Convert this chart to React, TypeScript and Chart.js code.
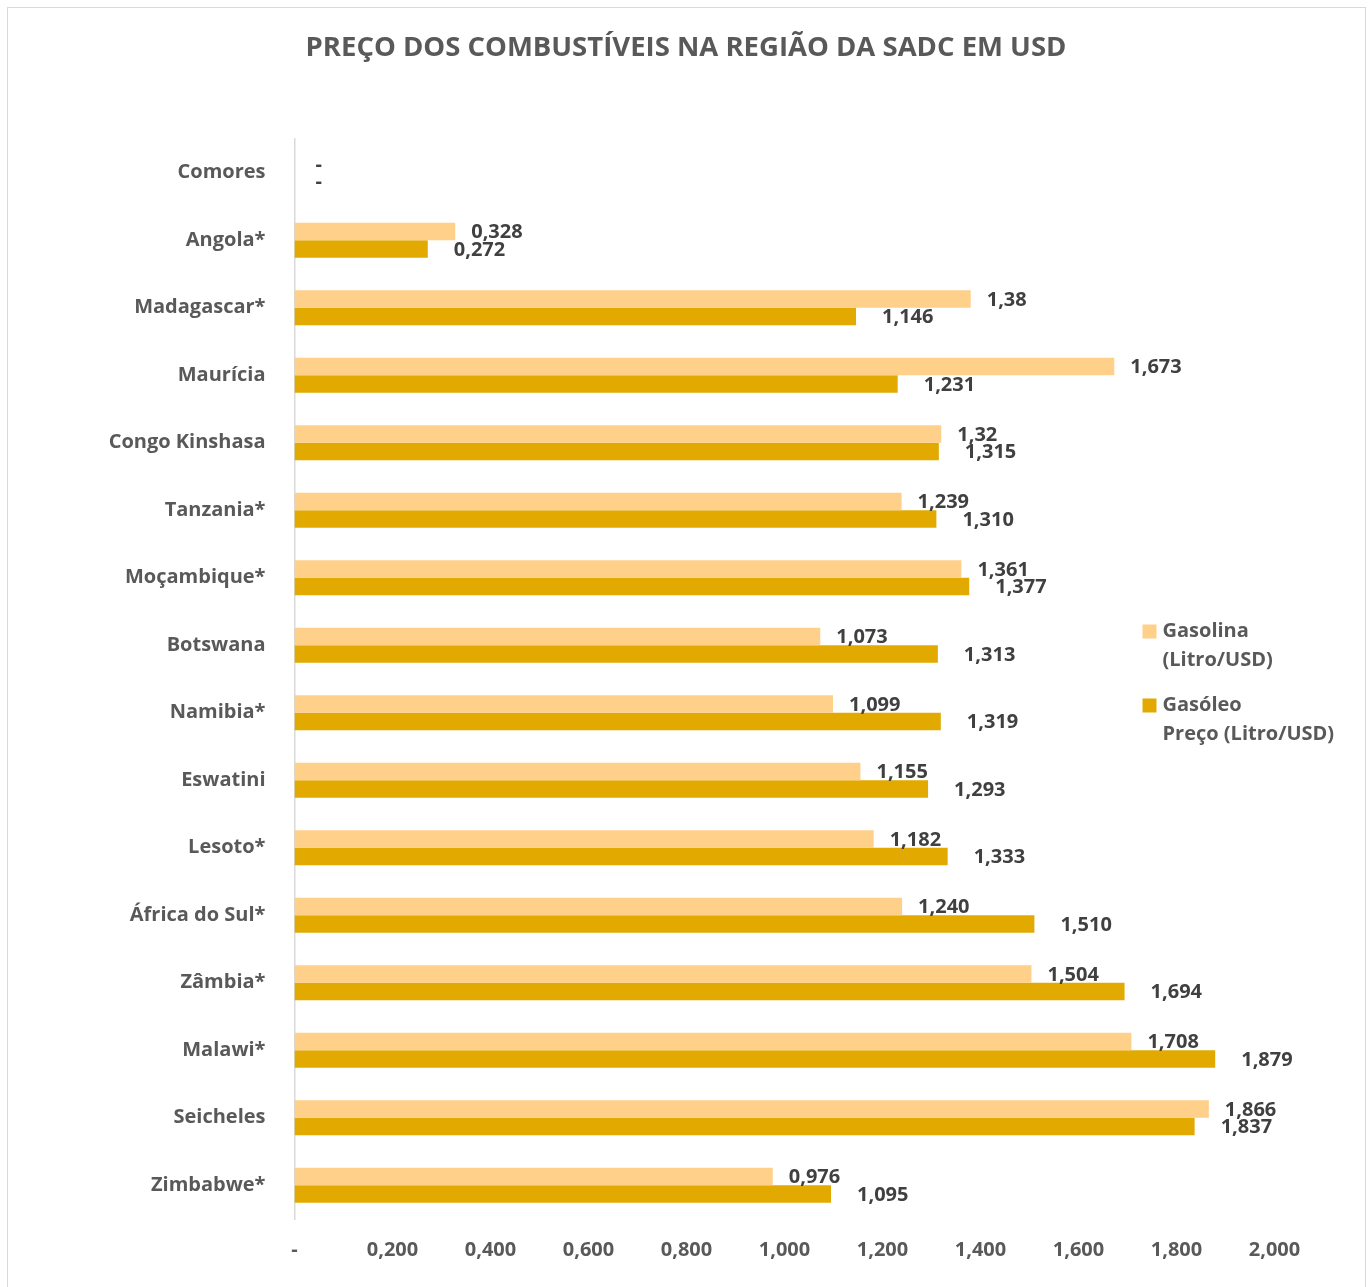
import React, { useEffect, useRef } from "react";
import { Chart, registerables } from "chart.js";

Chart.register(...registerables);

const titleText = "PREÇO DOS COMBUSTÍVEIS NA REGIÃO DA SADC EM USD";

const categories = [
  "Comores",
  "Angola*",
  "Madagascar*",
  "Maurícia",
  "Congo Kinshasa",
  "Tanzania*",
  "Moçambique*",
  "Botswana",
  "Namibia*",
  "Eswatini",
  "Lesoto*",
  "África do Sul*",
  "Zâmbia*",
  "Malawi*",
  "Seicheles",
  "Zimbabwe*",
];

// values as printed on the chart (decimal comma)
const gasolinaLabels = ["-", "0,328", "1,38", "1,673", "1,32", "1,239", "1,361", "1,073", "1,099", "1,155", "1,182", "1,240", "1,504", "1,708", "1,866", "0,976"];
const gasoleoLabels = ["-", "0,272", "1,146", "1,231", "1,315", "1,310", "1,377", "1,313", "1,319", "1,293", "1,333", "1,510", "1,694", "1,879", "1,837", "1,095"];

const seriesNames = [
  ["Gasolina", "(Litro/USD)"],
  ["Gasóleo", "Preço (Litro/USD)"],
];

const xMin = 0;
const xMax = 2;
const xStep = 0.2;

const parseVal = (s: string) => (s === "-" ? 0 : parseFloat(s.replace(",", ".")));
const gasolina = gasolinaLabels.map(parseVal);
const gasoleo = gasoleoLabels.map(parseVal);

const FONT = "'Open Sans', 'Noto Sans', sans-serif";
const colors = ["#FFD08A", "#E2AA00"];

const titlePlugin = {
  id: "customTitle",
  afterDraw(chart: any) {
    const ctx = chart.ctx;
    ctx.save();
    ctx.font = `bold 27.5px ${FONT}`;
    ctx.fillStyle = "#595959";
    ctx.textAlign = "center";
    ctx.textBaseline = "middle";
    ctx.fillText(titleText, chart.width / 2, 40);
    ctx.restore();
  },
};

const dataLabelPlugin = {
  id: "dataLabels",
  afterDatasetsDraw(chart: any) {
    const ctx = chart.ctx;
    const offsets = [16, 26];
    const texts = [gasolinaLabels, gasoleoLabels];
    ctx.save();
    ctx.font = `bold 20px ${FONT}`;
    ctx.fillStyle = "#404040";
    ctx.textAlign = "left";
    ctx.textBaseline = "middle";
    chart.data.datasets.forEach((_: any, di: number) => {
      const meta = chart.getDatasetMeta(di);
      meta.data.forEach((el: any, i: number) => {
        const t = texts[di][i];
        const off = t === "-" ? 21 : offsets[di];
        ctx.fillText(t, el.x + off, el.y + 1);
      });
    });
    ctx.restore();
  },
};

const legendPlugin = {
  id: "sideLegend",
  afterDraw(chart: any) {
    const ctx = chart.ctx;
    ctx.save();
    ctx.font = `bold 20px ${FONT}`;
    ctx.textAlign = "left";
    ctx.textBaseline = "middle";
    const x0 = 1134.5;
    let y0 = 623.5;
    chart.data.datasets.forEach((ds: any) => {
      ctx.fillStyle = ds.backgroundColor;
      ctx.fillRect(x0, y0 - 7, 14, 14);
      ctx.fillStyle = "#595959";
      const lines: string[] = ds.label;
      lines.forEach((ln, k) => {
        ctx.fillText(ln, x0 + 20, y0 + k * 29);
      });
      y0 += 74;
    });
    ctx.restore();
  },
};

export default function App() {
  const ref = useRef<HTMLCanvasElement | null>(null);

  useEffect(() => {
    if (!ref.current) return;
    const chart = new Chart(ref.current, {
      type: "bar",
      data: {
        labels: categories,
        datasets: [
          {
            label: seriesNames[0] as any,
            data: gasolina,
            backgroundColor: colors[0],
            borderWidth: 0,
            categoryPercentage: 0.52,
            barPercentage: 1.0,
          },
          {
            label: seriesNames[1] as any,
            data: gasoleo,
            backgroundColor: colors[1],
            borderWidth: 0,
            categoryPercentage: 0.52,
            barPercentage: 1.0,
          },
        ],
      },
      options: {
        indexAxis: "y",
        animation: false,
        responsive: false,
        layout: { padding: { left: 0, right: 89.5, top: 131, bottom: 24 } },
        plugins: {
          legend: { display: false },
          tooltip: { enabled: false },
          title: { display: false },
        },
        scales: {
          x: {
            type: "linear",
            min: xMin,
            max: xMax,
            grid: { display: false, drawTicks: false },
            border: { display: false },
            ticks: {
              stepSize: xStep,
              padding: 19,
              color: "#595959",
              font: { family: FONT, size: 20, weight: "bold" },
              callback: (v: any) => (Math.abs(v) < 1e-9 ? "-" : Number(v).toFixed(3).replace(".", ",")),
            },
            afterFit: (scale: any) => {
              scale.height = 43;
            },
          },
          y: {
            grid: { display: false, drawTicks: false },
            border: { display: true, color: "#D9D9D9", width: 1.5 },
            ticks: {
              padding: 29,
              color: "#595959",
              font: { family: FONT, size: 20, weight: "bold" },
            },
            afterFit: (scale: any) => {
              scale.width = 286.5;
            },
          },
        },
      },
      plugins: [titlePlugin, dataLabelPlugin, legendPlugin],
    });
    return () => chart.destroy();
  }, []);

  return (
    <div
      style={{
        position: "absolute",
        left: 7,
        top: 7,
        width: 1359,
        height: 1280,
        boxSizing: "border-box",
        border: "1.5px solid #D9D9D9",
        borderBottom: "none",
        background: "#fff",
        overflow: "hidden",
      }}
    >
      <canvas ref={ref} width={1356} height={1278} style={{ display: "block", width: 1356, height: 1278 }} />
    </div>
  );
}
